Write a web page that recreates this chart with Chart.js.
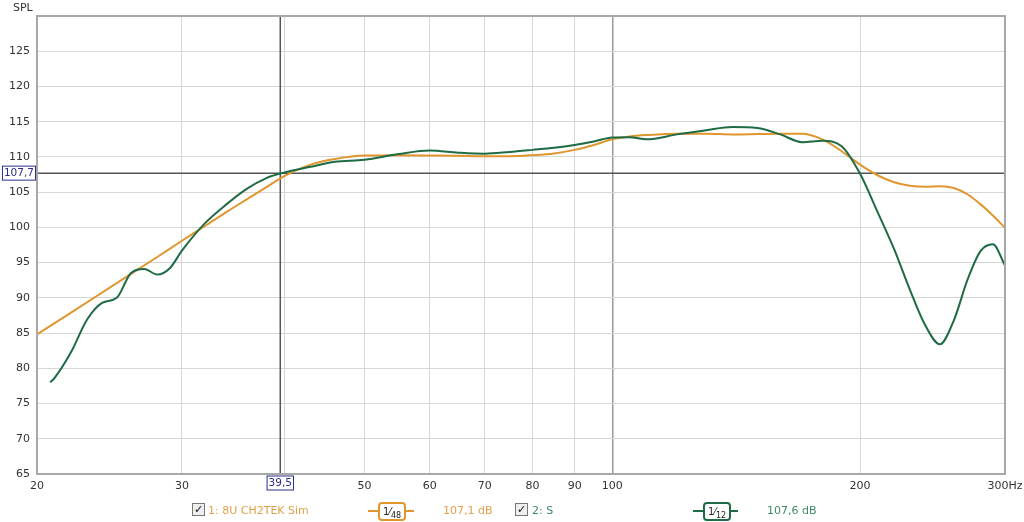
<!DOCTYPE html>
<html>
<head>
<meta charset="utf-8">
<script src="https://cdn.jsdelivr.net/npm/chart.js@4"></script>
<style>
  body { margin: 0; background: #fff; font-family: "DejaVu Sans", sans-serif; }
  #wrap { position: relative; width: 1024px; height: 522px; }
  #spl { position: absolute; left: 13px; top: 1px; font-size: 11px; color: #333; }
  .leg { position: absolute; top: 504px; font-size: 11px; white-space: nowrap; }
  .chk { position: absolute; top: 503px; width: 11px; height: 11px; border: 1px solid #777; background: #eee;
         font-size: 11px; line-height: 11px; text-align: center; color: #111; font-weight: bold; }
  .badge { position: absolute; top: 502px; height: 19px; }
  .badge .ln { position: absolute; top: 8px; left: 0; right: 0; height: 2px; }
  .badge .bx { position: absolute; left: 10px; top: 0; width: 24px; height: 15px; border: 2px solid; border-radius: 4px;
               background: #fff; font-size: 10px; line-height: 15px; text-align: center; color: #222; }
  .badge sub { font-size: 8px; }
</style>
</head>
<body>
<div id="wrap">
  <canvas id="grafico" width="1024" height="522"></canvas>
  <div id="spl">SPL</div>

  <div class="chk" style="left:192px">&#10003;</div>
  <div class="leg" style="left:208px;color:#e0a04a">1: 8U CH2TEK Sim</div>
  <div class="badge" style="left:368px;width:46px">
    <div class="ln" style="background:#e0962e"></div>
    <div class="bx" style="border-color:#e0962e">1&frasl;<sub>48</sub></div>
  </div>
  <div class="leg" style="left:443px;color:#e0a04a">107,1 dB</div>

  <div class="chk" style="left:515px">&#10003;</div>
  <div class="leg" style="left:532px;color:#3f8a64">2: S</div>
  <div class="badge" style="left:693px;width:45px">
    <div class="ln" style="background:#1e6b45"></div>
    <div class="bx" style="border-color:#1e6b45">1&frasl;<sub>12</sub></div>
  </div>
  <div class="leg" style="left:767px;color:#3f8a64">107,6 dB</div>
</div>

<script>
// curva simulada (laranja)
const freqSim = [20, 22, 25, 28, 30, 32, 34, 36, 38, 40, 43, 46, 50, 55, 60, 65, 70, 75, 80, 85, 90, 95,
  100, 105, 110, 120, 130, 140, 150, 160, 170, 180, 190, 200, 210, 220, 230, 240, 250, 260, 270, 280, 290, 300];
const splSim = [84.8, 87.9, 92.1, 95.8, 98.1, 100.2, 102.2, 104.0, 105.7, 107.3, 108.9, 109.7, 110.2, 110.25, 110.2, 110.15, 110.1, 110.1, 110.25, 110.5, 111.0, 111.7,
  112.5, 112.9, 113.1, 113.3, 113.3, 113.2, 113.25, 113.3, 113.3, 112.5, 110.8, 108.9, 107.4, 106.4, 105.9, 105.75, 105.85, 105.6, 104.7, 103.3, 101.7, 99.95];

// curva medida (verde)
const freqMed = [20.75, 21, 22, 23, 24, 25, 26, 27, 28, 29, 30, 32, 34, 36, 38, 40, 43, 46, 50, 55, 60, 65, 70, 75, 80, 85, 90, 95,
  100, 105, 110, 120, 130, 140, 150, 160, 170, 180, 190, 200, 210, 220, 230, 240, 250, 260, 270, 280, 290, 300];
const splMed = [78.0, 78.6, 82.3, 86.9, 89.3, 90.0, 93.5, 94.1, 93.3, 94.2, 96.7, 100.6, 103.3, 105.5, 107.0, 107.8, 108.6, 109.3, 109.6, 110.4, 110.9, 110.6, 110.45, 110.7, 111.0, 111.3, 111.7, 112.2,
  112.75, 112.8, 112.5, 113.2, 113.8, 114.25, 114.1, 113.2, 112.1, 112.3, 111.5, 107.6, 102.2, 96.9, 91.1, 86.1, 83.4, 86.8, 92.5, 96.6, 97.6, 94.6];

const xTicks = [20, 30, 40, 50, 60, 70, 80, 90, 100, 200, 300];
const yTicks = [65, 70, 75, 80, 85, 90, 95, 100, 105, 110, 115, 120, 125, 130];

// cursor
const cursorFreq = 39.5;
const cursorSpl = 107.7;

Chart.defaults.font.family = 'DejaVu Sans';
Chart.defaults.font.size = 11;
Chart.defaults.color = '#333';

function caixa(ctx, txt, cx, cy, alinhar) {
  ctx.font = '10.5px "DejaVu Sans"';
  const w = ctx.measureText(txt).width + 4;
  const h = 15;
  let x = alinhar === 'right' ? cx - w : cx - w / 2;
  ctx.fillStyle = '#fff';
  ctx.fillRect(x, cy - h / 2, w, h);
  ctx.strokeStyle = '#2c2c8c';
  ctx.lineWidth = 1;
  ctx.strokeRect(x + 0.5, cy - h / 2 + 0.5, w - 1, h - 1);
  ctx.fillStyle = '#2c2c8c';
  ctx.textAlign = 'center';
  ctx.textBaseline = 'middle';
  ctx.fillText(txt, x + w / 2, cy + 0.5);
}

const cursorPlugin = {
  id: 'cursor',
  beforeDatasetsDraw(chart) {
    const { ctx, chartArea: a, scales } = chart;
    const px = scales.x.getPixelForValue(cursorFreq);
    const py = scales.y.getPixelForValue(cursorSpl);
    ctx.save();
    ctx.strokeStyle = '#555';
    ctx.lineWidth = 1.5;
    ctx.beginPath();
    ctx.moveTo(px, a.top); ctx.lineTo(px, a.bottom);
    ctx.moveTo(a.left, py); ctx.lineTo(a.right, py);
    ctx.stroke();
    ctx.restore();
  },
  afterDraw(chart) {
    const { ctx, chartArea: a, scales } = chart;
    const px = scales.x.getPixelForValue(cursorFreq);
    const py = scales.y.getPixelForValue(cursorSpl);
    ctx.save();
    // moldura
    ctx.strokeStyle = '#a8a8a8';
    ctx.lineWidth = 2;
    ctx.strokeRect(a.left, a.top, a.right - a.left, a.bottom - a.top);
    caixa(ctx, String(cursorSpl).replace('.', ','), a.left - 1, py, 'right');
    caixa(ctx, String(cursorFreq).replace('.', ','), px, a.bottom + 9, 'center');
    ctx.restore();
  }
};

new Chart(document.getElementById('grafico').getContext('2d'), {
  type: 'line',
  data: {
    datasets: [{
      label: '2: S',
      data: freqMed.map((f, i) => ({ x: f, y: splMed[i] })),
      borderColor: '#1e6b45',
      borderWidth: 2,
      pointRadius: 0,
      cubicInterpolationMode: 'monotone'
    }, {
      label: '1: 8U CH2TEK Sim',
      data: freqSim.map((f, i) => ({ x: f, y: splSim[i] })),
      borderColor: '#e0962e',
      borderWidth: 2,
      pointRadius: 0,
      cubicInterpolationMode: 'monotone'
    }]
  },
  options: {
    responsive: false,
    animation: false,
    layout: { padding: { left: 0, top: 16, right: 19, bottom: 28 } },
    plugins: { legend: { display: false }, tooltip: { enabled: false } },
    scales: {
      x: {
        type: 'logarithmic',
        min: 20,
        max: 300,
        afterBuildTicks: s => { s.ticks = xTicks.map(v => ({ value: v })); },
        afterFit: s => { s.height = 20; s.paddingLeft = 0; s.paddingRight = 0; },
        ticks: {
          autoSkip: false,
          maxRotation: 0,
          padding: 6,
          callback: v => v === 40 ? '' : (v === 300 ? '300Hz' : String(v))
        },
        grid: {
          color: c => c.tick && c.tick.value === 100 ? '#9a9a9a' : '#d6d6d6',
          lineWidth: c => c.tick && c.tick.value === 100 ? 1.5 : 1,
          drawTicks: false
        },
        border: { display: false }
      },
      y: {
        min: 65,
        max: 130,
        afterBuildTicks: s => { s.ticks = yTicks.map(v => ({ value: v })); },
        afterFit: s => { s.width = 37; s.paddingTop = 0; s.paddingBottom = 0; },
        ticks: {
          padding: 7,
          callback: v => v === 130 ? '' : String(v)
        },
        grid: { color: '#d6d6d6', drawTicks: false },
        border: { display: false }
      }
    }
  },
  plugins: [cursorPlugin]
});
</script>
</body>
</html>
